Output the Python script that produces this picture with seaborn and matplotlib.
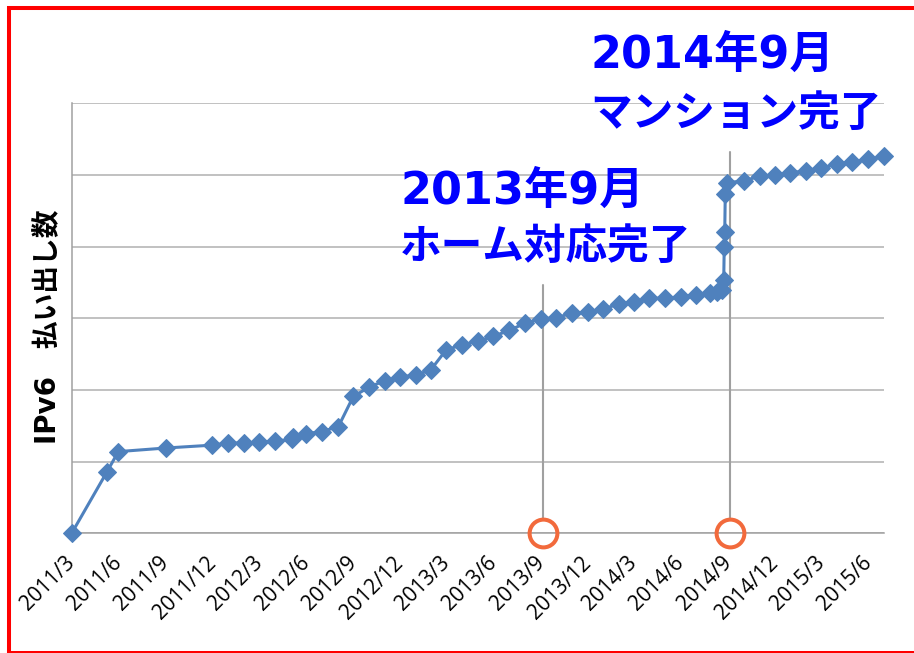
import matplotlib
matplotlib.use("Agg")
import matplotlib.pyplot as plt
from matplotlib.patches import Rectangle
import pandas as pd
import seaborn as sns

# IPv6 assignments (one gridline = one unit, axis has no value labels)
dates = ['2011-03-01', '2011-05-09', '2011-05-31', '2011-08-31', '2011-11-30',
         '2011-12-31', '2012-01-31', '2012-03-01', '2012-04-01', '2012-05-04',
         '2012-05-05', '2012-05-31', '2012-07-01', '2012-08-02', '2012-08-31',
         '2012-10-01', '2012-10-31', '2012-11-30', '2013-01-01', '2013-01-29',
         '2013-02-28', '2013-03-31', '2013-05-01', '2013-05-31', '2013-07-01',
         '2013-07-31', '2013-08-31', '2013-10-01', '2013-10-31', '2013-12-01',
         '2013-12-31', '2014-01-31', '2014-03-01', '2014-03-31', '2014-04-30',
         '2014-05-31', '2014-06-30', '2014-07-28', '2014-08-10', '2014-08-20',
         '2014-08-23', '2014-08-24', '2014-08-25', '2014-08-26', '2014-08-30',
         '2014-10-01', '2014-11-01', '2014-12-01', '2014-12-31', '2015-01-31',
         '2015-03-01', '2015-04-01', '2015-05-01', '2015-06-01', '2015-07-02']
counts = [0.00, 0.86, 1.14, 1.19, 1.23,
          1.26, 1.26, 1.27, 1.29, 1.31,
          1.35, 1.39, 1.42, 1.49, 1.91,
          2.04, 2.13, 2.18, 2.21, 2.28,
          2.56, 2.63, 2.68, 2.75, 2.83,
          2.93, 2.99, 3.01, 3.07, 3.09,
          3.13, 3.20, 3.23, 3.28, 3.28,
          3.30, 3.33, 3.36, 3.37, 3.40,
          3.53, 4.00, 4.21, 4.73, 4.89,
          4.92, 4.98, 5.00, 5.03, 5.06,
          5.10, 5.15, 5.18, 5.22, 5.26]

tick_dates = pd.date_range('2011-03-01', '2015-06-01', freq='3MS')
tick_labels = [f"{d.year}/{d.month}" for d in tick_dates]

event_dates = ['2013-09-04', '2014-09-04']
event_titles = ['2013年9月', '2014年9月']
event_notes = ['ホーム対応完了', 'マンション完了']

df = pd.DataFrame({'date': pd.to_datetime(dates), 'count': counts})

sns.set_style("white")
plt.rcParams['font.family'] = ['Noto Sans CJK JP', 'DejaVu Sans']
latin_first = ['DejaVu Sans', 'Noto Sans CJK JP']

fig = plt.figure(figsize=(9.14, 6.53), dpi=100)
ax = fig.add_axes([0.0784, 0.1833, 0.8891, 0.6585])

sns.lineplot(data=df, x='date', y='count', ax=ax, sort=False,
             color='#4F81BD', linewidth=2.2, marker='D', markersize=9,
             markeredgecolor='#4F81BD', clip_on=False, zorder=4)

ax.set_ylim(0, 6)
ax.set_yticks(range(7))
ax.set_yticklabels([])
ax.set_xlim(pd.Timestamp('2011-03-01'), pd.Timestamp('2015-07-02'))
ax.set_xticks(tick_dates)
ax.set_xticklabels(tick_labels, rotation=45, ha='right', va='center',
                   rotation_mode='anchor', fontsize=15, family='Open Sans')
ax.tick_params(axis='x', length=5, width=1, color='#A0A0A0', pad=14, labelcolor='black')
ax.tick_params(axis='y', length=3, width=1, color='#A0A0A0')
ax.yaxis.grid(True, color='#B0B0B0', linewidth=1.1)
ax.set_axisbelow(True)
for side in ['top', 'right']:
    ax.spines[side].set_visible(False)
for side in ['left', 'bottom']:
    ax.spines[side].set_color('#A0A0A0')
    ax.spines[side].set_linewidth(1.1)

ax.set_xlabel('')
ax.set_ylabel('IPv6\u3000払い出し数', fontsize=20, fontweight='bold', color='black',
              family=latin_first)
ax.yaxis.set_label_coords(-0.012, 0.48)

# leader lines and circles for the two milestones
line_tops = [0.577, 0.887]
for d, top in zip(event_dates, line_tops):
    ax.axvline(pd.Timestamp(d), ymin=0.03, ymax=top, color='#A0A0A0', linewidth=1.5)
    ax.plot(pd.Timestamp(d), 0, marker='o', markersize=20, markerfacecolor='none',
            markeredgecolor='#F26A3C', markeredgewidth=2.9, clip_on=False, zorder=5)

text_pos = [(400 / 914, 1 - 191 / 653, 1 - 247 / 653),
            (590 / 914, 1 - 55 / 653, 1 - 114 / 653)]
for (x, y1, y2), title, note in zip(text_pos, event_titles, event_notes):
    fig.text(x, y1, title, color='#0000FF', fontsize=32, fontweight='bold',
             va='center', family=latin_first)
    fig.text(x, y2, note, color='#0000FF', fontsize=30, fontweight='bold', va='center')

# red frame around the slide
fig.patches.append(Rectangle((9 / 914, 0), 1.1, 1 - 8 / 653, transform=fig.transFigure,
                             fill=False, edgecolor='red', linewidth=2.9, clip_on=False))

fig.savefig('out.png', dpi=100)
